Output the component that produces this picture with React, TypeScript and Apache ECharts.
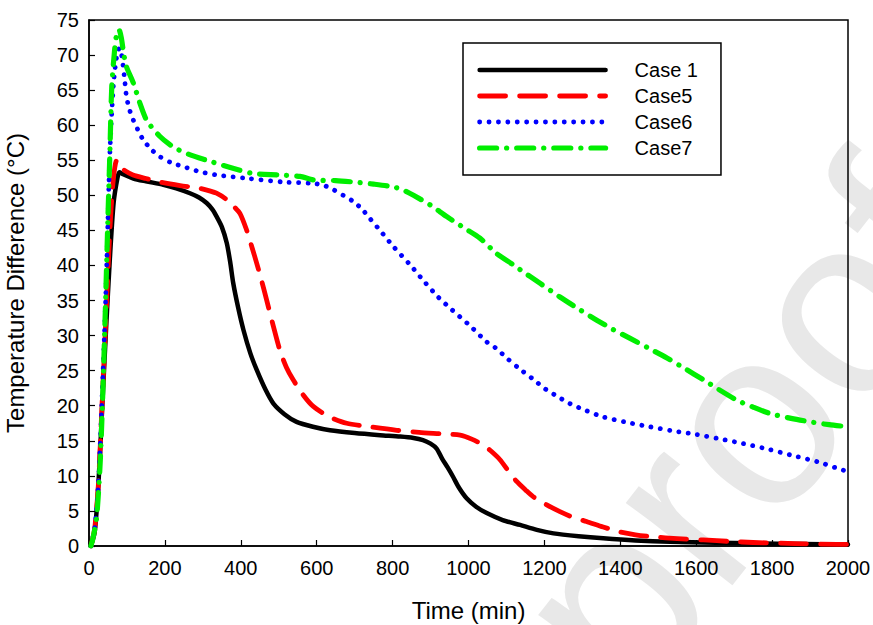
import React, { useEffect, useRef } from "react";
import * as echarts from "echarts";

const seriesNames = ["Case 1", "Case5", "Case6", "Case7"];
const xTicks = { min: 0, max: 2000, interval: 200 };
const yTicks = { min: 0, max: 75, interval: 5 };

const case1: [number, number][] = [
  [5, 0], [15, 2], [25, 9], [35, 20], [45, 31], [55, 41], [65, 49], [75, 52.5], [80, 53.3], [90, 53],
  [117, 52.4], [150, 52], [196, 51.5], [230, 51], [266, 50.3], [290, 49.7], [310, 48.9], [325, 48],
  [336, 47], [350, 45.5], [363, 43.2], [372, 40.5], [380, 37.5], [393, 34], [407, 30.8], [425, 27.5],
  [442, 25.1], [465, 22.3], [486, 20.3], [515, 18.8], [547, 17.7], [590, 17], [635, 16.5], [700, 16.1],
  [767, 15.8], [820, 15.6], [855, 15.4], [880, 15.1], [900, 14.6], [916, 13.9], [930, 12.5], [945, 11.2],
  [960, 9.8], [975, 8.3], [995, 6.8], [1020, 5.6], [1048, 4.7], [1090, 3.7], [1136, 3.0], [1180, 2.3],
  [1224, 1.8], [1290, 1.4], [1355, 1.1], [1440, 0.8], [1531, 0.6], [1650, 0.45], [1750, 0.38],
  [1880, 0.28], [2000, 0.2],
];

const case5: [number, number][] = [
  [5, 0], [15, 2.5], [25, 9], [35, 21], [45, 33], [55, 45], [62, 51], [68, 54], [73, 55], [78, 54.8],
  [82, 54.1], [95, 53.5], [116, 52.9], [150, 52.4], [187, 51.9], [240, 51.4], [292, 51], [320, 50.6],
  [336, 50.3], [360, 49.5], [380, 48.5], [398, 47.4], [415, 45.1], [430, 42.5], [442, 40.3], [455, 37.8],
  [468, 35.1], [485, 31.5], [503, 27.9], [520, 25.5], [538, 23.7], [565, 21.5], [591, 19.9], [630, 18.5],
  [679, 17.5], [740, 17], [811, 16.5], [870, 16.2], [925, 16], [978, 15.8], [1010, 15.2], [1039, 14.4],
  [1060, 13.5], [1083, 12.3], [1105, 10.7], [1127, 9.2], [1150, 8], [1171, 7.0], [1205, 5.9], [1241, 4.9],
  [1275, 4.1], [1311, 3.5], [1355, 2.7], [1399, 2.0], [1440, 1.6], [1487, 1.3], [1550, 1.05], [1619, 0.86],
  [1690, 0.65], [1750, 0.5], [1860, 0.35], [1970, 0.24], [2000, 0.22],
];

const case6: [number, number][] = [
  [5, 0], [15, 2.5], [25, 9], [35, 22], [45, 37], [55, 56], [64, 65.5], [72, 69.5], [80, 71], [86, 70],
  [93, 67], [99, 64], [108, 62], [117, 60.7], [130, 59.2], [143, 57.9], [165, 56.5], [187, 55.5],
  [215, 54.7], [248, 54.1], [290, 53.4], [336, 52.9], [420, 52.4], [512, 51.9], [591, 51.7], [620, 51.4],
  [644, 50.8], [670, 50], [697, 49.1], [720, 48], [740, 46.7], [770, 44.8], [802, 42.7], [846, 40.1],
  [885, 37.6], [920, 35.5], [956, 33.7], [1004, 31.4], [1048, 29.1], [1070, 28.3], [1105, 26.6],
  [1136, 25.2], [1170, 23.8], [1202, 22.4], [1235, 21.3], [1267, 20.3], [1310, 19.3], [1355, 18.4],
  [1420, 17.6], [1478, 17.0], [1540, 16.4], [1601, 15.9], [1660, 15.3], [1724, 14.6], [1790, 13.8],
  [1847, 13.0], [1920, 12.0], [1988, 10.8], [2000, 10.7],
];

const case7: [number, number][] = [
  [5, 0], [10, 1], [20, 4], [30, 12.5], [40, 28], [50, 47], [55, 56], [60, 65.5], [68, 71], [74, 73.3],
  [79, 73.6], [85, 72.5], [92, 70], [99, 68.3], [117, 66], [135, 63], [152, 60.7], [185, 58.5],
  [222, 56.9], [265, 55.8], [310, 55], [370, 54], [433, 53.1], [500, 52.9], [556, 52.7], [591, 52.2],
  [650, 52.1], [697, 51.9], [750, 51.6], [802, 51.2], [830, 50.7], [855, 50], [900, 48.6], [942, 47],
  [990, 45.3], [1030, 43.9], [1074, 41.7], [1118, 40.1], [1136, 39.4], [1190, 37.4], [1241, 35.5],
  [1290, 33.8], [1338, 32.2], [1380, 30.9], [1426, 29.6], [1475, 28.2], [1523, 26.8], [1570, 25.3],
  [1619, 23.7], [1660, 22.3], [1707, 20.8], [1750, 19.8], [1794, 18.9], [1850, 18.2], [1900, 17.7],
  [1950, 17.3], [2000, 17.0],
];

const FONT = "Liberation Sans, Arial, sans-serif";

export default function App() {
  const ref = useRef<HTMLDivElement>(null);
  useEffect(() => {
    if (!ref.current) return;
    const chart = echarts.init(ref.current, undefined, { renderer: "svg" });
    const styles = [
      { color: "#000000", width: 4.5, type: "solid" as any },
      { color: "#ff0000", width: 4.8, type: [26, 14] },
      { color: "#0000ff", width: 4.8, type: [0.1, 9.3] },
      { color: "#00ee00", width: 5.2, type: [17, 10, 0.1, 10] },
    ];
    const datas = [case1, case5, case6, case7];
    chart.setOption({
      animation: false,
      backgroundColor: "#ffffff",
      textStyle: { fontFamily: FONT },
      graphic: [
        {
          type: "text",
          x: 665,
          y: 735,
          rotation: (52 * Math.PI) / 180,
          z: -10,
          silent: true,
          style: {
            text: "proof",
            fontSize: 255,
            fontFamily: FONT,
            fill: "#e8e8e8",
            textVerticalAlign: "bottom",
          },
        },
      ],
      grid: {
        left: 89,
        right: 25,
        top: 20,
        bottom: 79,
        outerBoundsMode: "none",
        containLabel: false,
        show: true,
        borderColor: "#000",
        borderWidth: 1.5,
        backgroundColor: "transparent",
        z: 1,
      },
      legend: {
        orient: "vertical",
        left: 463,
        top: 43,
        padding: [17, 23, 17, 14],
        itemWidth: 126,
        itemHeight: 14,
        itemGap: 6,
        borderColor: "#000",
        borderWidth: 1.5,
        backgroundColor: "#fff",
        data: seriesNames.map((n, i) => ({
          name: n,
          lineStyle: { width: styles[i].width, type: styles[i].type, cap: "round", color: styles[i].color },
        })),
        itemStyle: { opacity: 0 },
        textStyle: { fontSize: 20, color: "#000", fontFamily: FONT, padding: [0, 0, 0, 24] },
      },
      xAxis: {
        type: "value",
        min: xTicks.min,
        max: xTicks.max,
        interval: xTicks.interval,
        name: "Time (min)",
        nameLocation: "middle",
        nameGap: 52,
        nameTextStyle: { fontSize: 24, color: "#000", fontFamily: FONT },
        axisLine: { lineStyle: { color: "#000", width: 1.5 } },
        axisTick: { inside: true, length: 6, lineStyle: { color: "#000", width: 1.2 } },
        axisLabel: { fontSize: 20, color: "#000", margin: 12, fontFamily: FONT, formatter: (v: number) => String(v) },
        splitLine: { show: false },
      },
      yAxis: {
        type: "value",
        min: yTicks.min,
        max: yTicks.max,
        interval: yTicks.interval,
        name: "Temperature Difference (°C)",
        nameLocation: "middle",
        nameGap: 62,
        nameTextStyle: { fontSize: 24, color: "#000", fontFamily: FONT },
        axisLine: { lineStyle: { color: "#000", width: 1.5 } },
        axisTick: { inside: true, length: 6, lineStyle: { color: "#000", width: 1.2 } },
        axisLabel: { fontSize: 20, color: "#000", margin: 10, fontFamily: FONT, formatter: (v: number) => String(v) },
        splitLine: { show: false },
      },
      series: seriesNames.map((name, i) => ({
        name,
        type: "line",
        data: datas[i],
        showSymbol: false,
        symbol: "none",
        smooth: 0.25,
        z: 3 + i,
        color: styles[i].color,
        lineStyle: {
          color: styles[i].color,
          width: styles[i].width,
          type: styles[i].type,
          cap: "round",
          join: "round",
        },
      })),
    });
    return () => chart.dispose();
  }, []);
  return (
    <div
      ref={ref}
      style={{ position: "absolute", left: 0, top: 0, width: 873, height: 625 }}
    />
  );
}
